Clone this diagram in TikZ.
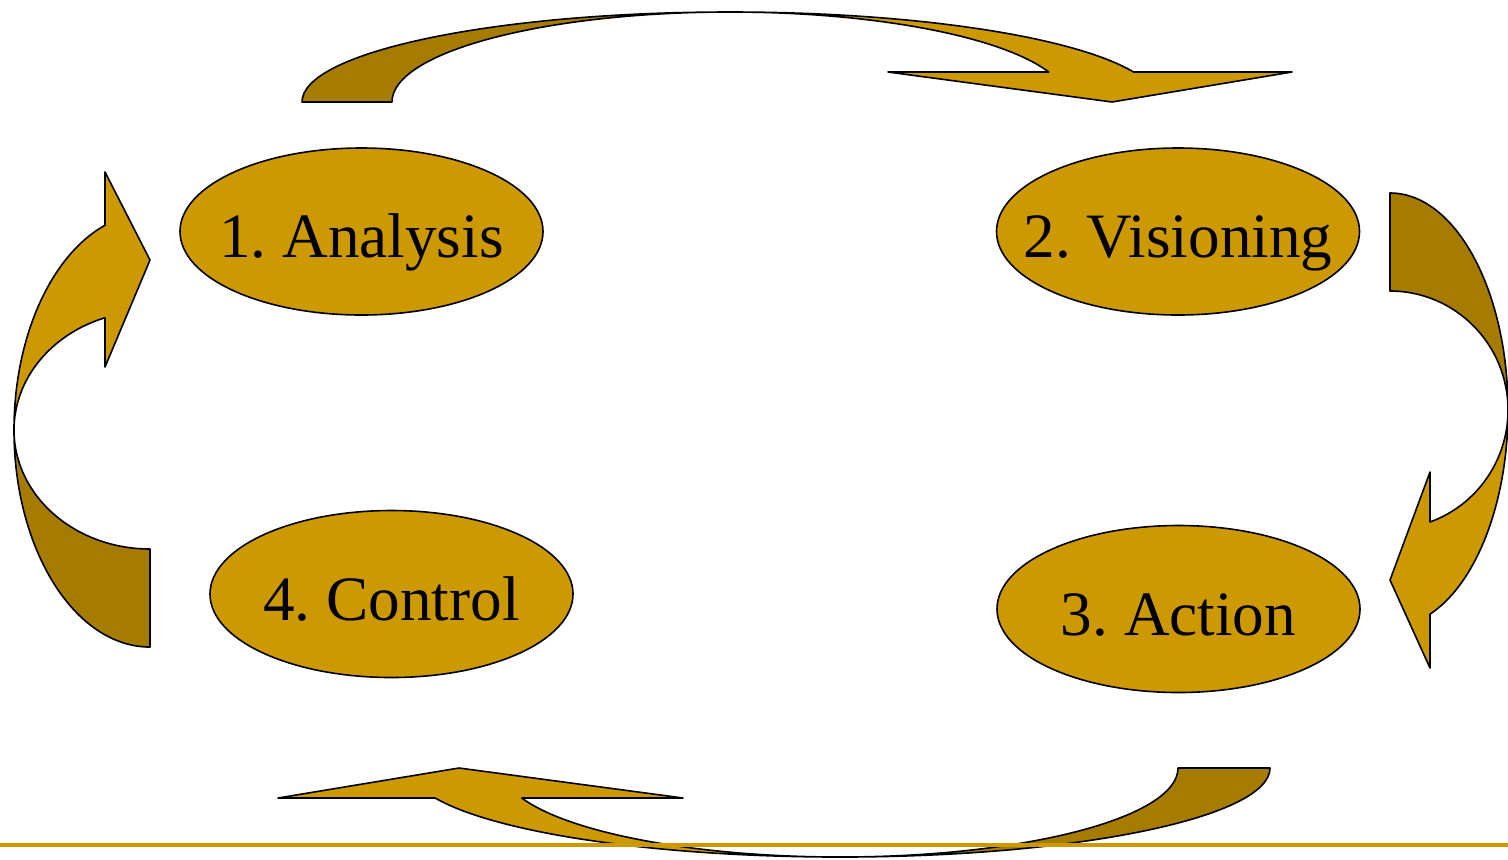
\documentclass[tikz,border=0pt]{standalone}
\usepackage{fontspec}
\setmainfont{Liberation Serif}
\usetikzlibrary{shapes.geometric}
\definecolor{gold}{HTML}{CC9900}
\definecolor{darkgold}{HTML}{A67C00}
\tikzset{
  stage/.style={ellipse, draw=black, line width=0.8pt, fill=gold, inner sep=0pt,
    minimum width=181.5pt, minimum height=83.5pt, text height=26pt, text depth=0pt,
    font=\fontsize{31.6}{37}\selectfont\frenchspacing},
  front/.style={fill=gold, draw=black, line width=0.8pt, line join=round},
  back/.style={fill=darkgold, draw=black, line width=0.8pt, line join=round}
}
\begin{document}
\begin{tikzpicture}[x=0.5pt, y=-0.5pt]
\useasboundingbox (0,0) rectangle (1508,859);
\clip (0,0) rectangle (1508,859);
% top arrow (Analysis -> Visioning)
\draw[back] (302,102) -- (392,102)
  arc[start angle=180, end angle=270, x radius=338, y radius=90]
  arc[start angle=270, end angle=180, x radius=428, y radius=90] -- cycle;
\draw[front] (730,12)
  arc[start angle=270, end angle=340.53, x radius=428, y radius=90]
  -- (1292,72) -- (1112,102) -- (888,72) -- (1048.7,72)
  arc[start angle=340.53, end angle=270, x radius=338, y radius=90] -- cycle;
% right arrow (Visioning -> Action)
\draw[back] (1390,193) -- (1390,291)
  arc[start angle=270, end angle=360, x radius=118, y radius=119]
  arc[start angle=0, end angle=-90, x radius=118, y radius=217] -- cycle;
\draw[front] (1508,410)
  arc[start angle=0, end angle=70.2, x radius=118, y radius=217]
  -- (1430,668) -- (1390,580) -- (1430,472) -- (1430,522)
  arc[start angle=70.2, end angle=0, x radius=118, y radius=119] -- cycle;
% bottom arrow (Action -> Control)
\draw[back] (1178,768) -- (1270,768)
  arc[start angle=0, end angle=90, x radius=430, y radius=89]
  arc[start angle=90, end angle=0, x radius=338, y radius=89] -- cycle;
\draw[front] (840,857)
  arc[start angle=90, end angle=160.3, x radius=430, y radius=89]
  -- (278,798) -- (459,768) -- (683,798) -- (521.8,798)
  arc[start angle=160.3, end angle=90, x radius=338, y radius=89] -- cycle;
% left arrow (Control -> Analysis)
\draw[back] (150,647) -- (150,549)
  arc[start angle=90, end angle=180, x radius=136, y radius=119]
  arc[start angle=180, end angle=90, x radius=136, y radius=217] -- cycle;
\draw[front] (14,430)
  arc[start angle=180, end angle=250.68, x radius=136, y radius=217]
  -- (105,172) -- (150,260) -- (105,367) -- (105,317.7)
  arc[start angle=250.68, end angle=180, x radius=136, y radius=119] -- cycle;
% stages
\node[stage] (analysis) at (361.5,231.5) {\makebox[0pt]{1. Analysis}};
\node[stage] (visioning) at (1178,231.5) {\makebox[0pt]{2. Visioning}};
\node[stage] (action) at (1178.5,609) {\makebox[0pt]{3. Action}};
\node[stage] (control) at (391.5,594) {\makebox[0pt]{4. Control}};
% bottom rule
\draw[gold, line width=2pt] (0,845) -- (1508,845);
\end{tikzpicture}
\end{document}
